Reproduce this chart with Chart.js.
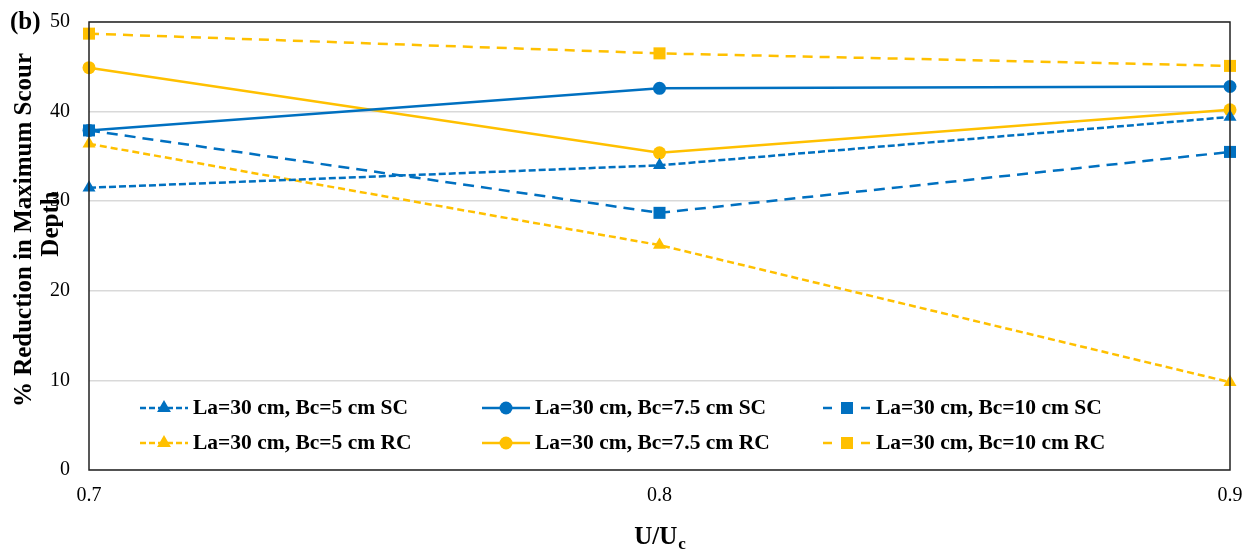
<!DOCTYPE html>
<html>
<head>
<meta charset="utf-8">
<script src="https://cdn.jsdelivr.net/npm/chart.js@4"></script>
<style>
  html, body { margin: 0; padding: 0; background: #fff; }
  #wrap { width: 1255px; height: 553px; }
</style>
</head>
<body>
<div id="wrap"><canvas id="myChart" width="1255" height="553"></canvas></div>
<script>
const speeds = [0.7, 0.8, 0.9];
const xTicks = [0.7, 0.8, 0.9];
const yTicks = [0, 10, 20, 30, 40, 50];

const bc5SC = [31.5, 34.0, 39.4];
const bc75SC = [37.9, 42.6, 42.8];
const bc10SC = [37.9, 28.7, 35.5];
const bc5RC = [36.4, 25.1, 9.8];
const bc75RC = [44.9, 35.4, 40.2];
const bc10RC = [48.7, 46.5, 45.1];

const blue = '#0070C0';
const yellow = '#FFC000';
const serif = '"Liberation Serif", "Times New Roman", serif';

function pts(vals) {
    return speeds.map((x, i) => ({ x: x, y: vals[i] }));
}

function series(label, vals, color, style, dash, radius) {
    return {
        label: label,
        data: pts(vals),
        borderColor: color,
        backgroundColor: color,
        borderWidth: 2.5,
        borderDash: dash,
        pointStyle: style,
        pointRadius: radius,
        pointHoverRadius: radius,
        pointBorderWidth: 0,
        clip: false,
        tension: 0
    };
}

const datasets = [
    series('La=30 cm, Bc=5 cm SC', bc5SC, blue, 'triangle', [7, 3], 7.5),
    series('La=30 cm, Bc=7.5 cm SC', bc75SC, blue, 'circle', [], 6.5),
    series('La=30 cm, Bc=10 cm SC', bc10SC, blue, 'rect', [11, 7], 8.5),
    series('La=30 cm, Bc=5 cm RC', bc5RC, yellow, 'triangle', [7, 4], 7.5),
    series('La=30 cm, Bc=7.5 cm RC', bc75RC, yellow, 'circle', [], 6.5),
    series('La=30 cm, Bc=10 cm RC', bc10RC, yellow, 'rect', [10, 7], 8.5)
];

// legend layout: 3 columns x 2 rows inside the plot
const legendCols = [51, 393, 734];
const legendRows = [-62, -27];

const extras = {
    id: 'extras',
    afterDraw(chart) {
        const ctx = chart.ctx;
        const a = chart.chartArea;
        ctx.save();

        // frame round the plot
        ctx.strokeStyle = '#222';
        ctx.lineWidth = 1.5;
        ctx.strokeRect(a.left, a.top, a.right - a.left, a.bottom - a.top);

        // panel tag
        ctx.fillStyle = '#000';
        ctx.font = 'bold 25px ' + serif;
        ctx.textAlign = 'left';
        ctx.textBaseline = 'middle';
        ctx.fillText('(b)', 10, 23);

        // y title, two lines
        ctx.font = 'bold 25px ' + serif;
        ctx.textAlign = 'center';
        ctx.save();
        ctx.translate(25, 230);
        ctx.rotate(-Math.PI / 2);
        ctx.fillText('% Reduction in Maximum Scour', 0, 0);
        ctx.restore();
        ctx.save();
        ctx.translate(52, 224);
        ctx.rotate(-Math.PI / 2);
        ctx.fillText('Depth', 0, 0);
        ctx.restore();

        // x title with subscript
        const cx = (a.left + a.right) / 2;
        ctx.font = 'bold 25px ' + serif;
        const main = 'U/U';
        const w1 = ctx.measureText(main).width;
        ctx.font = 'bold 17px ' + serif;
        const w2 = ctx.measureText('c').width;
        const x0 = cx - (w1 + w2) / 2;
        ctx.textAlign = 'left';
        ctx.textBaseline = 'alphabetic';
        ctx.font = 'bold 25px ' + serif;
        ctx.fillText(main, x0, 544);
        ctx.font = 'bold 17px ' + serif;
        ctx.fillText('c', x0 + w1 + 1, 549);

        // legend
        ctx.textBaseline = 'middle';
        chart.data.datasets.forEach((ds, i) => {
            const col = i % 3;
            const row = Math.floor(i / 3);
            const lx = a.left + legendCols[col];
            const ly = a.bottom + legendRows[row];
            ctx.strokeStyle = ds.borderColor;
            ctx.lineWidth = ds.borderWidth;
            ctx.setLineDash(ds.borderDash && ds.borderDash.length ? (ds.pointStyle === 'rect' ? [9, 10] : [6, 3]) : []);
            ctx.beginPath();
            ctx.moveTo(lx, ly);
            ctx.lineTo(lx + 48, ly);
            ctx.stroke();
            ctx.setLineDash([]);
            ctx.fillStyle = ds.backgroundColor;
            Chart.helpers.drawPoint(ctx, {
                pointStyle: ds.pointStyle,
                rotation: 0,
                borderWidth: 0,
                radius: ds.pointStyle === 'rect' ? 8.5 : (ds.pointStyle === 'triangle' ? 8 : 6.5)
            }, lx + 24, ly);
            ctx.fillStyle = '#000';
            ctx.font = 'bold 21.5px ' + serif;
            ctx.fillText(ds.label, lx + 53, ly);
        });
        ctx.restore();
    }
};

const ctx = document.getElementById('myChart').getContext('2d');
const myChart = new Chart(ctx, {
    type: 'line',
    data: { datasets: datasets },
    options: {
        responsive: false,
        animation: false,
        layout: { padding: { top: 22, right: 25, left: 0, bottom: 0 } },
        plugins: {
            legend: { display: false },
            tooltip: { enabled: false }
        },
        scales: {
            x: {
                type: 'linear',
                min: 0.7,
                max: 0.9,
                afterFit(scale) { scale.height = 83; },
                afterBuildTicks(scale) { scale.ticks = xTicks.map(v => ({ value: v })); },
                grid: { display: false },
                border: { display: false },
                ticks: {
                    color: '#000',
                    padding: 6,
                    font: { family: serif, size: 20 },
                    maxRotation: 0,
                    callback: v => Number(v).toFixed(1)
                }
            },
            y: {
                min: 0,
                max: 50,
                afterFit(scale) {
                    scale.width = 89;
                    scale.paddingTop = 0;
                    scale.paddingBottom = 0;
                },
                afterBuildTicks(scale) { scale.ticks = yTicks.map(v => ({ value: v })); },
                grid: { color: '#d9d9d9', lineWidth: 1.5, drawTicks: false },
                border: { display: false },
                ticks: {
                    color: '#000',
                    padding: 19,
                    font: { family: serif, size: 20 }
                }
            }
        }
    },
    plugins: [extras]
});
</script>
</body>
</html>
